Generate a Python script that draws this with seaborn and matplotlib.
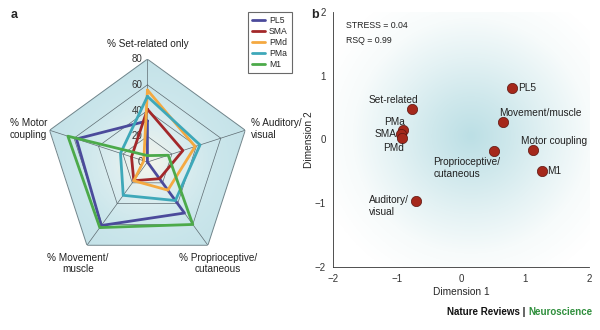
#!/usr/bin/env python3
"""
Radar profile of task-related cell classes per area (a) and MDS map (b).
"""

import numpy as np
import pandas as pd
import matplotlib
matplotlib.use("Agg")
import matplotlib.pyplot as plt
from matplotlib.colors import LinearSegmentedColormap
import seaborn as sns

# panel a: radar values, axes clockwise from the top
categories = ["% Set-related only", "% Auditory/\nvisual", "% Proprioceptive/\ncutaneous",
              "% Movement/\nmuscle", "% Motor\ncoupling"]
areas = ["PL5", "SMA", "PMd", "PMa", "M1"]
pl5 = [32, 0, 49, 61, 58]
sma = [41, 29, 16, 18, 13]
pmd = [56, 39, 27, 18, 3]
pma = [51, 43, 37, 32, 22]
m1 = [5, 17, 60, 63, 65]
radar_ticks = [0, 20, 40, 60, 80]
area_colors = ["#4b4a9b", "#a3282a", "#f4a941", "#3ea8b9", "#4caa4a"]

# panel b: MDS coordinates
mds_labels = ["PL5", "Set-related", "PMa", "SMA", "PMd", "Movement/muscle",
              "Motor coupling", "Proprioceptive/\ncutaneous", "M1", "Auditory/\nvisual"]
dim1 = [0.80, -0.76, -0.91, -0.94, -0.92, 0.65, 1.13, 0.51, 1.26, -0.71]
dim2 = [0.81, 0.47, 0.15, 0.09, 0.03, 0.27, -0.16, -0.18, -0.50, -0.96]
mds_ticks = [-2, -1, 0, 1, 2]

sns.set_style("white")
plt.rcParams["font.family"] = ["Liberation Sans", "DejaVu Sans"]
plt.rcParams["font.size"] = 7

fig = plt.figure(figsize=(6.0, 3.3), dpi=100)

# ---------------- panel a: radar ----------------
ax = fig.add_axes([0.0742, 0.197, 0.343, 0.624], projection="polar")
ax.set_theta_zero_location("N")
ax.set_theta_direction(-1)
ax.set_ylim(0, 80)
ax.grid(False)
ax.set_xticks([])
ax.set_yticks([])
ax.spines["polar"].set_visible(False)
ax.patch.set_visible(False)

n = len(categories)
angles = np.arange(n) * 2 * np.pi / n
closed = np.append(angles, angles[0])

# pentagon background with a soft radial shading
outer = ax.fill(angles, [80] * n, facecolor="none", edgecolor="#71858b", lw=0.7, zorder=2)[0]
th = np.linspace(0, 2 * np.pi, 361)
rr = np.linspace(0, 80, 81)
TH, RR = np.meshgrid(th, rr)
shade = LinearSegmentedColormap.from_list("shade", ["#f4f4ea", "#dcedef", "#cbe6eb", "#c4e2e8"])
mesh = ax.pcolormesh(TH, RR, RR, cmap=shade, shading="auto", zorder=0)
mesh.set_clip_path(outer)

for r in radar_ticks[1:-1]:
    ax.plot(closed, [r] * (n + 1), color="#5d6a70", lw=0.5, zorder=1)
for a in angles:
    ax.plot([a, a], [0, 80], color="#5d6a70", lw=0.5, zorder=1)

for v in radar_ticks:
    ax.annotate(str(v), xy=(0, v), xytext=(-3.5, 0), textcoords="offset points",
                ha="right", va="center", fontsize=7, color="#333333", zorder=3)

for vals, name, col in zip([pl5, sma, pmd, pma, m1], areas, area_colors):
    ax.plot(closed, np.append(vals, vals[0]), color=col, lw=2.0, label=name, zorder=4)

label_offsets = [(0, 11), (4, 1), (7, -13), (-6.5, -13), (-1.5, 1)]
label_ha = ["center", "left", "center", "center", "right"]
label_ma = ["center", "left", "center", "center", "left"]
for a, txt, off, ha, ma in zip(angles, categories, label_offsets, label_ha, label_ma):
    ax.annotate(txt, xy=(a, 80), xytext=off, textcoords="offset points",
                ha=ha, va="center", multialignment=ma, fontsize=7.2, color="#222222")

leg = ax.legend(loc="upper left", bbox_to_anchor=(0.413, 0.963), bbox_transform=fig.transFigure,
                frameon=True, fancybox=False, fontsize=6.2, handlelength=1.5,
                handletextpad=0.5, borderpad=0.45, labelspacing=0.22, borderaxespad=0)
leg.get_frame().set_edgecolor("#444444")
leg.get_frame().set_linewidth(0.8)

# ---------------- panel b: MDS ----------------
bx = fig.add_axes([0.555, 0.191, 0.427, 0.773])
gx = np.linspace(-2, 2, 300)
GX, GY = np.meshgrid(gx, gx)
dist = np.sqrt(((GX - 0.15) / 2.9) ** 2 + ((GY - 0.05) / 2.9) ** 2)
glow = LinearSegmentedColormap.from_list("glow", ["#bcdfe5", "#cfe8ec", "#e4f2f4", "#f7fbfb", "#ffffff"])
bx.imshow(np.clip(dist, 0, 1), extent=[-2, 2, -2, 2], origin="lower", cmap=glow,
          aspect="auto", zorder=0, vmin=0, vmax=0.85)

df = pd.DataFrame({"Dimension 1": dim1, "Dimension 2": dim2, "label": mds_labels})
sns.scatterplot(data=df, x="Dimension 1", y="Dimension 2", ax=bx, s=55,
                color="#a5281b", edgecolor="#5c1510", linewidth=0.5, zorder=3)

# label offsets from each point (dx, dy, alignment)
text_pos = {
    "PL5": (0.09, 0.0, "left"),
    "Set-related": (-0.30, 0.15, "center"),
    "PMa": (-0.13, 0.13, "center"),
    "SMA": (-0.07, -0.01, "right"),
    "PMd": (-0.13, -0.16, "center"),
    "Movement/muscle": (-0.06, 0.15, "left"),
    "Motor coupling": (-0.19, 0.14, "left"),
    "Proprioceptive/\ncutaneous": (-0.94, -0.27, "left"),
    "M1": (0.09, 0.0, "left"),
    "Auditory/\nvisual": (-0.73, -0.08, "left"),
}
for x, y, lab in zip(dim1, dim2, mds_labels):
    dx, dy, ha = text_pos[lab]
    bx.text(x + dx, y + dy, lab, ha=ha, va="center", fontsize=7.3, color="#222222",
            multialignment="left", zorder=4)

bx.text(-1.8, 1.78, "STRESS = 0.04", fontsize=6.3, va="center", color="#222222")
bx.text(-1.8, 1.55, "RSQ = 0.99", fontsize=6.3, va="center", color="#222222")

bx.set_xlim(-2, 2)
bx.set_ylim(-2, 2)
bx.set_xticks(mds_ticks)
bx.set_yticks(mds_ticks)
bx.set_xticklabels(["\u22122", "\u22121", "0", "1", "2"])
bx.set_yticklabels(["\u22122", "\u22121", "0", "1", "2"])
bx.tick_params(direction="out", length=3, width=0.6, labelsize=7, pad=2, colors="#333333")
bx.set_xlabel("Dimension 1", fontsize=7.3, labelpad=2)
bx.set_ylabel("Dimension 2", fontsize=7.3, labelpad=1)
sns.despine(ax=bx)
for sp in ["left", "bottom"]:
    bx.spines[sp].set_linewidth(0.6)
    bx.spines[sp].set_color("#333333")

fig.text(0.018, 0.955, "a", fontsize=9, fontweight="bold", va="center")
fig.text(0.519, 0.955, "b", fontsize=9, fontweight="bold", va="center")
neuro = fig.text(0.987, 0.055, "Neuroscience", fontsize=7, fontweight="bold", ha="right",
                 va="center", color="#2f8f3c")
ax.annotate("Nature Reviews |", xy=(0, 0.5), xycoords=neuro, xytext=(-2, 0),
            textcoords="offset points", ha="right", va="center",
            fontsize=7, fontweight="bold", color="#111111", annotation_clip=False)

fig.savefig("out.png", dpi=100)
plt.close(fig)
